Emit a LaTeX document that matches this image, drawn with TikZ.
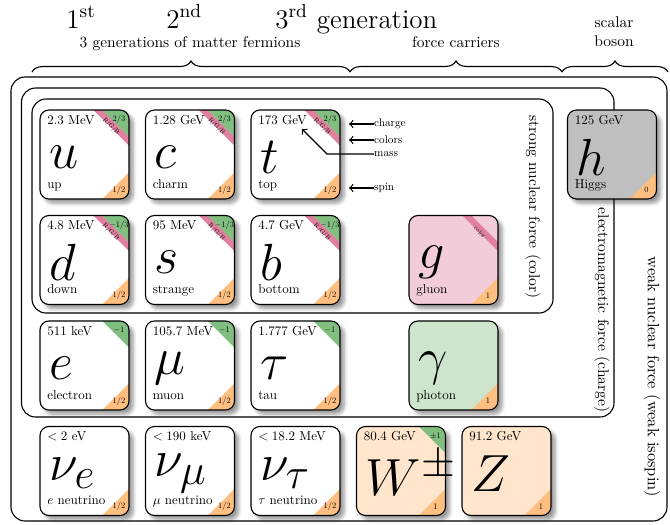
\documentclass[tikz,border=0pt]{standalone}
\usepackage{etoolbox}
\usetikzlibrary{shadows.blur,decorations.pathreplacing}
\colorlet{chargecol}{green!50!black!50}
\colorlet{colorband}{purple!50!white}
\colorlet{spincol}{orange!50!white}
\colorlet{gluonfill}{purple!20!white}
\colorlet{photonfill}{green!50!black!20}
\colorlet{wzfill}{orange!20!white}
\colorlet{higgsfill}{gray!50!white}
\tikzset{
  cardline/.style={rounded corners=4.5pt, line width=0.55pt},
  symtext/.style={font=\Huge, scale=1.05, inner sep=0pt, anchor=west},
  masstext/.style={font=\normalsize, scale=0.65, inner sep=0pt, anchor=west},
  labeltext/.style={font=\normalsize, scale=0.65, inner sep=0pt, anchor=base west},
  qtext/.style={font=\normalsize, scale=0.42, inner sep=0pt},
  colortext/.style={font=\normalsize, scale=0.32, inner sep=0pt, rotate=-45},
  forcelabel/.style={font=\normalsize, scale=0.775, rotate=-90, inner sep=0pt},
  grouplabel/.style={font=\normalsize, scale=0.775, inner sep=0pt, align=center},
  genlabel/.style={font=\fontsize{13.5}{16}\selectfont, inner sep=0pt, anchor=base west},
  legendtext/.style={font=\normalsize, scale=0.56, inner sep=0pt, anchor=west},
  legendarrow/.style={<-, line width=0.6pt},
  region/.style={rounded corners=7pt, line width=0.55pt},
  groupbrace/.style={decorate, decoration={brace, amplitude=5.5pt}, line width=0.55pt},
  pics/card/.style n args={7}{code={
    \path[fill=#1, rounded corners=4.5pt, blur shadow={shadow blur steps=5}] (0,0) rectangle (89,89);
    \begin{scope}
      \clip[rounded corners=4.5pt] (0,0) rectangle (89,89);
      \ifstrempty{#7}{}{\fill[colorband] (53.4,0) -- (62.3,0) -- (89,26.7) -- (89,35.6) -- cycle;}
      \ifstrempty{#5}{}{\fill[chargecol] (62.3,0) -- (89,0) -- (89,26.7) -- cycle;}
      \fill[spincol] (89,62.3) -- (89,89) -- (62.3,89) -- cycle;
    \end{scope}
    \draw[cardline] (0,0) rectangle (89,89);
    \node[symtext] (-sym) at (9,47) {#2};
    \ifstrempty{#3}{}{\node[masstext] (-mass) at (7,10) {#3};}
    \ifstrempty{#4}{}{\node[labeltext] (-label) at (7,78) {#4};}
    \ifstrempty{#5}{}{\node[qtext] (-charge) at (79,9.5) {#5};}
    \node[qtext] (-spin) at (79,80) {#6};
    \ifstrempty{#7}{}{\node[colortext] (-color) at (71,16.5) {#7};}
  }}
}
\begin{document}
\begin{tikzpicture}[x=0.5pt, y=-0.5pt]
  \useasboundingbox (0,0) rectangle (670,525);

  % headings
  \node[genlabel] (gen1) at (66,28) {1\textsuperscript{st}};
  \node[genlabel] (gen2) at (166,28) {2\textsuperscript{nd}};
  \node[genlabel] (gen3) at (275,28) {3\textsuperscript{rd} generation};
  \node[grouplabel, anchor=base] (fermions) at (190,47) {3 generations of matter fermions};
  \node[grouplabel, anchor=base] (carriers) at (456,47) {force carriers};
  \node[grouplabel, anchor=south] (scalar) at (614,47) {scalar\\boson};

  \coordinate (b0) at (32,72);
  \coordinate (b1) at (350,72);
  \coordinate (b2) at (562,72);
  \coordinate (b3) at (668,72);
  \draw[groupbrace] (b0) -- (b1);
  \draw[groupbrace] (b1) -- (b2);
  \draw[groupbrace] (b2) -- (b3);

  % interaction regions
  \draw[region] (11,77) rectangle (667,521);
  \draw[region] (21.5,88) rectangle (614,417);
  \draw[region] (32,99) rectangle (553,313);

  \node[forcelabel] (strongl) at (533,207) {strong nuclear force (color)};
  \node[forcelabel] (eml) at (602,310) {electromagnetic force (charge)};
  \node[forcelabel, scale=1.06] (weakl) at (652,377) {weak nuclear force (weak isospin)};

  % particles
  \pic (u) at (40,110) {card={white}{$u$}{2.3 MeV}{up}{$2/3$}{$1/2$}{R/G/B}};
  \pic (c) at (145.5,110) {card={white}{$c$}{1.28 GeV}{charm}{$2/3$}{$1/2$}{R/G/B}};
  \pic (t) at (251,110) {card={white}{$t$}{173 GeV}{top}{$2/3$}{$1/2$}{R/G/B}};
  \pic (d) at (40,215.5) {card={white}{$d$}{4.8 MeV}{down}{$-1/3$}{$1/2$}{R/G/B}};
  \pic (s) at (145.5,215.5) {card={white}{$s$}{95 MeV}{strange}{$-1/3$}{$1/2$}{R/G/B}};
  \pic (b) at (251,215.5) {card={white}{$b$}{4.7 GeV}{bottom}{$-1/3$}{$1/2$}{R/G/B}};
  \pic (e) at (40,321) {card={white}{$e$}{511 keV}{electron}{$-1$}{$1/2$}{}};
  \pic (mu) at (145.5,321) {card={white}{$\mu$}{105.7 MeV}{muon}{$-1$}{$1/2$}{}};
  \pic (tau) at (251,321) {card={white}{$\tau$}{1.777 GeV}{tau}{$-1$}{$1/2$}{}};
  \pic (nue) at (40,426.5) {card={white}{$\nu_e$}{$<2$ eV}{$e$ neutrino}{}{$1/2$}{}};
  \pic (numu) at (145.5,426.5) {card={white}{$\nu_\mu$}{$<190$ keV}{$\mu$ neutrino}{}{$1/2$}{}};
  \pic (nutau) at (251,426.5) {card={white}{$\nu_\tau$}{$<18.2$ MeV}{$\tau$ neutrino}{}{$1/2$}{}};
  \pic (W) at (356.5,426.5) {card={wzfill}{$W^{\pm}$}{80.4 GeV}{}{$\pm1$}{$1$}{}};
  \pic (Z) at (462,426.5) {card={wzfill}{$Z$}{91.2 GeV}{}{}{$1$}{}};
  \pic (g) at (409,215.5) {card={gluonfill}{$g$}{}{gluon}{}{$1$}{color}};
  \pic (gamma) at (409,321) {card={photonfill}{$\gamma$}{}{photon}{}{$1$}{}};
  \pic (h) at (567.5,110) {card={higgsfill}{$h$}{125 GeV}{Higgs}{}{$0$}{}};

  % legend
  \node[legendtext] (lcharge) at (374,124) {charge};
  \node[legendtext] (lcolors) at (374,140) {colors};
  \node[legendtext] (lmass) at (374,154) {mass};
  \node[legendtext] (lspin) at (374,188) {spin};
  \coordinate (chargetip) at (349,124);
  \coordinate (colorstip) at (349,140);
  \coordinate (masstip) at (302,129);
  \coordinate (massbend) at (327,154);
  \coordinate (spintip) at (349,188);
  \draw[legendarrow] (chargetip) -- (lcharge.west);
  \draw[legendarrow] (colorstip) -- (lcolors.west);
  \draw[legendarrow] (masstip) -- (massbend) -- (lmass.west);
  \draw[legendarrow] (spintip) -- (lspin.west);
\end{tikzpicture}
\end{document}
